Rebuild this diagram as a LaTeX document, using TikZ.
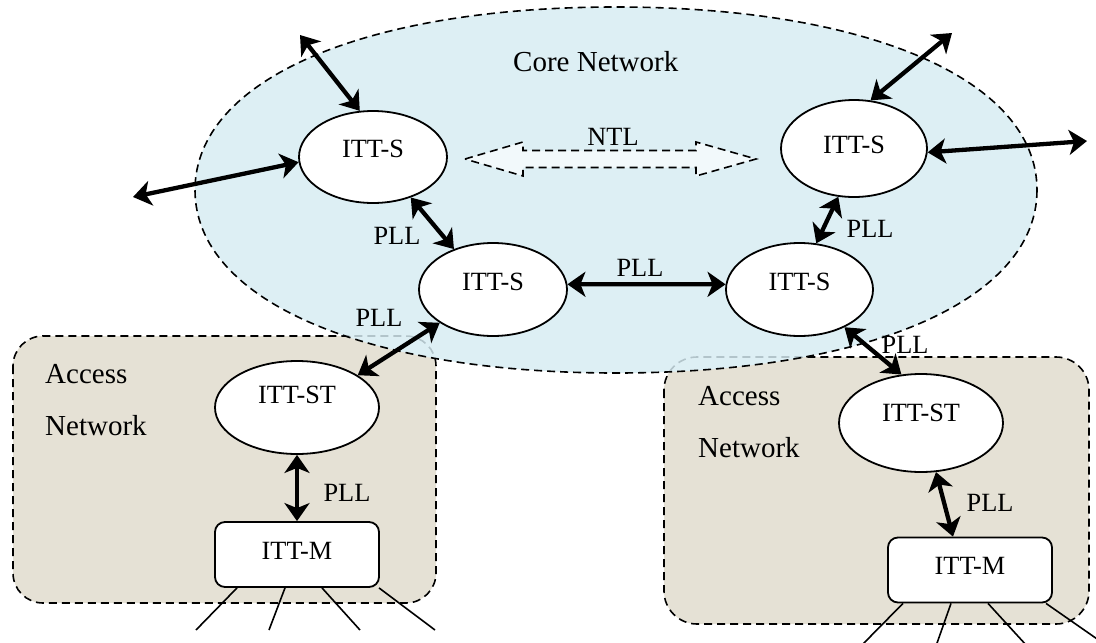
\documentclass[tikz,border=0pt]{standalone}
\usepackage{fontspec}
\setmainfont{Liberation Serif}
\usetikzlibrary{shapes.geometric,arrows.meta,calc}
\definecolor{coreblue}{RGB}{221,239,244}
\definecolor{accbeige}{RGB}{229,225,213}
\definecolor{ntlfill}{RGB}{242,249,251}
\definecolor{faintline}{RGB}{178,196,202}
\newcommand\mainfs{\fontsize{26.3}{30}\selectfont}
\newcommand\bigfs{\fontsize{29}{52}\selectfont}
\begin{document}
\begin{tikzpicture}[x=1pt,y=-1pt,
  >={Stealth[length=18pt,width=25pt,inset=5pt]},
  dsh/.style={line width=1.6pt, dash pattern=on 8pt off 5pt},
  itts/.style={ellipse, draw, line width=1.8pt, fill=white, inner sep=0pt, text height=18pt, font=\mainfs},
  ittm/.style={rectangle, rounded corners=10pt, draw, line width=1.8pt, fill=white, inner sep=0pt,
     minimum width=164pt, minimum height=65pt, text height=18pt, text depth=9pt, font=\mainfs},
  link/.style={<->, line width=4.3pt},
  wire/.style={line width=1.6pt},
  lbl/.style={font=\mainfs, inner sep=0pt},
  biglbl/.style={font=\bigfs, inner sep=0pt}]
\useasboundingbox (0,0) rectangle (1096,643);
% access networks
\path[fill=accbeige] (13,336) [rounded corners=30pt] rectangle (436,603);
\draw[dsh, rounded corners=30pt] (13,336) rectangle (436,603);
\path[fill=accbeige] (664,357) [rounded corners=33pt] rectangle (1089,624);
\draw[dsh, rounded corners=33pt] (664,357) rectangle (1089,624);
% core network
\path[fill=coreblue] (1037,190) .. controls (1037,300) and (869,373) .. (616,373)
  .. controls (363,373) and (195,300) .. (195,190)
  .. controls (195,80) and (363,7) .. (616,7)
  .. controls (869,7) and (1037,80) .. (1037,190) -- cycle;
\begin{scope}
\clip (1037,190) .. controls (1037,300) and (869,373) .. (616,373)
  .. controls (363,373) and (195,300) .. (195,190)
  .. controls (195,80) and (363,7) .. (616,7)
  .. controls (869,7) and (1037,80) .. (1037,190) -- cycle;
\draw[dsh, faintline, rounded corners=30pt] (13,336) rectangle (436,603);
\draw[dsh, faintline, rounded corners=33pt] (664,357) rectangle (1089,624);
\end{scope}
\draw[dsh] (1037,190) .. controls (1037,300) and (869,373) .. (616,373)
  .. controls (363,373) and (195,300) .. (195,190)
  .. controls (195,80) and (363,7) .. (616,7)
  .. controls (869,7) and (1037,80) .. (1037,190) -- cycle;
% NTL block arrow
\draw[dsh, fill=ntlfill, line join=miter] (465,159) -- (523,142) -- (523,150.5) -- (696,150.5) -- (696,142)
  -- (756,159) -- (696,176) -- (696,167.5) -- (523,167.5) -- (523,176) -- cycle;
% labels
\node[biglbl, anchor=base west] (core) at (513,71) {Core Network};
\node[lbl, anchor=base] (ntl) at (613,145) {NTL};
\node[biglbl, align=left, anchor=north west] (acc1) at (45,364.5) {Access\\Network};
\node[biglbl, align=left, anchor=north west] (acc2) at (698,386.5) {Access\\Network};
% nodes
\node[itts, minimum width=148pt, minimum height=92pt, text depth=17pt] (s1) at (373,157) {ITT-S};
\node[itts, minimum width=146pt, minimum height=97pt, text depth=9pt] (s2) at (854,148.5) {ITT-S};
\node[itts, minimum width=148pt, minimum height=93pt, text depth=17pt] (s3) at (493,289.5) {ITT-S};
\node[itts, minimum width=147pt, minimum height=93pt, text depth=17pt] (s4) at (799.5,289.5) {ITT-S};
\node[itts, minimum width=164pt, minimum height=93pt, text depth=27pt] (st1) at (297,407.5) {ITT-ST};
\node[itts, minimum width=164pt, minimum height=98pt, text depth=22pt] (st2) at (921,423) {ITT-ST};
\node[ittm] (m1) at (297,554.5) {ITT-M};
\node[ittm] (m2) at (970,570) {ITT-M};
% external links
\coordinate (e1) at (300,35);
\coordinate (e2) at (133,197);
\coordinate (e3) at (952,33);
\coordinate (e4) at (1087,141);
\draw[link] (e1) -- (s1.106);
\draw[link] (e2) -- (s1.184);
\draw[link] (s2.71) -- (e3);
\draw[link] (s2.-3) -- (e4);
% PLL links
\draw[link] (s1.-47) -- (s3.134);
\draw[link] (s2.-108) -- (s4.70);
\draw[link] (s3.4) -- (s4.176);
\draw[link] (s3.212) -- (st1.28);
\draw[link] (s4.-40) -- (st2.112);
\draw[link] (st1.south) -- (m1.north);
\draw[link] (st2.-73) -- (m2.117);
\node[lbl, anchor=base] (p1) at (397,244) {PLL};
\node[lbl, anchor=base] (p2) at (870,237) {PLL};
\node[lbl, anchor=base] (p3) at (640,276) {PLL};
\node[lbl, anchor=base] (p4) at (379,326) {PLL};
\node[lbl, anchor=base] (p5) at (905,353) {PLL};
\node[lbl, anchor=base] (p6) at (347,501) {PLL};
\node[lbl, anchor=base] (p7) at (990,511) {PLL};
% device wires
\coordinate (w1) at (196,630);
\coordinate (w2) at (269,630);
\coordinate (w3) at (360,630);
\coordinate (w4) at (435,630);
\draw[wire] ($(m1.south)+(-60,0)$) -- (w1);
\draw[wire] ($(m1.south)+(-12,0)$) -- (w2);
\draw[wire] ($(m1.south)+(25,0)$) -- (w3);
\draw[wire] ($(m1.south)+(82,0)$) -- (w4);
\coordinate (w5) at (861,646);
\coordinate (w6) at (936,646);
\coordinate (w7) at (1027,646);
\coordinate (w8) at (1100,641);
\draw[wire] ($(m2.south)+(-67,0)$) -- (w5);
\draw[wire] ($(m2.south)+(-19,0)$) -- (w6);
\draw[wire] ($(m2.south)+(18,0)$) -- (w7);
\draw[wire] ($(m2.south)+(76,0)$) -- (w8);
\end{tikzpicture}
\end{document}
